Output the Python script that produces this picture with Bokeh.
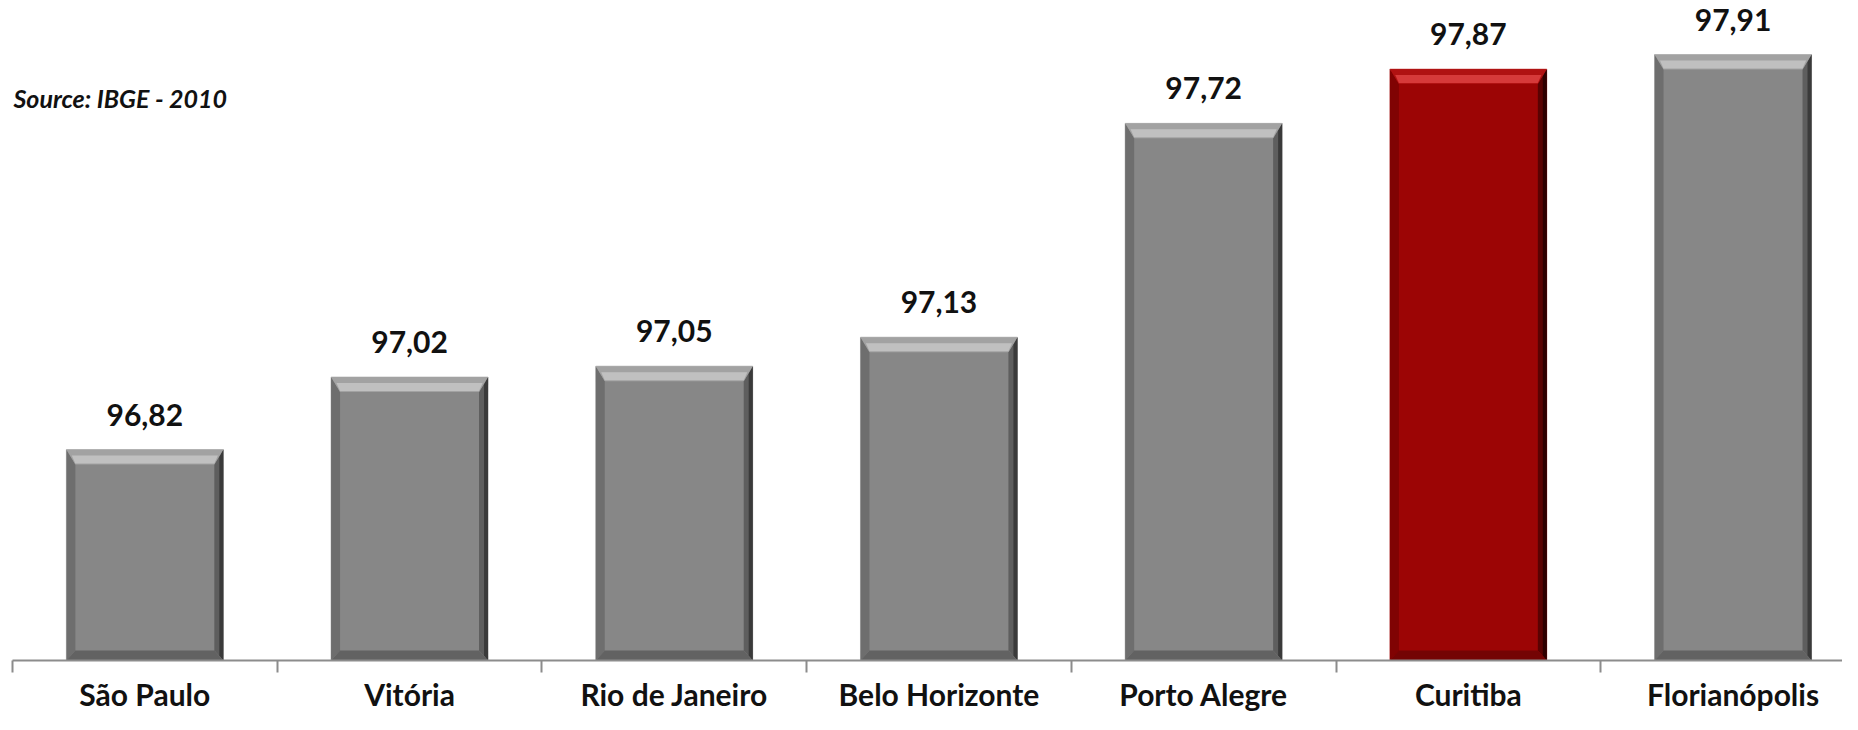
import numpy as np
from bokeh.plotting import figure
from bokeh.models import Range1d, FixedTicker, Label
from bokeh.embed import file_html
from bokeh.resources import INLINE
from bokeh.core.properties import value

# ---- data ----
cities = ["São Paulo", "Vitória", "Rio de Janeiro", "Belo Horizonte",
          "Porto Alegre", "Curitiba", "Florianópolis"]
rates = [96.82, 97.02, 97.05, 97.13, 97.72, 97.87, 97.91]
rate_labels = ["96,82", "97,02", "97,05", "97,13", "97,72", "97,87", "97,91"]
highlight_city = "Curitiba"
source_note = "Source: IBGE - 2010"

# ---- layout / style ----
W, H = 1842, 714
LEFT = 12
FRAME_H = 660.0
Y0, Y1 = 96.238, 98.059
X0 = -0.5
CAT_PX = 264.7
FRAME_W = W - LEFT
X1 = X0 + FRAME_W / CAT_PX
BAR_W = 0.593

FONT = "Lato"
TXT = "#111111"
AXIS_C = "#8c8c8c"

palette = {
    "gray": dict(main="#878787", top="#a2a2a2", hi="#c0c0c0", rdark="#3a3a3a",
                 rmid="#5e5e5e", left="#6e6e6e", bot="#626262", edge="#c4c4c4"),
    "red": dict(main="#9c0505", top="#b01212", hi="#d63a3a", rdark="#2e0000",
                rmid="#5a0202", left="#800303", bot="#740404", edge="#e2a0a0"),
}

p = figure(width=W, height=H, x_range=Range1d(X0, X1), y_range=Range1d(Y0, Y1),
           output_backend="svg", toolbar_location=None,
           min_border_left=LEFT, min_border_right=0, min_border_top=0, min_border_bottom=0)
p.outline_line_color = None
p.xgrid.grid_line_color = None
p.ygrid.grid_line_color = None
p.yaxis.visible = False
p.background_fill_color = "white"
p.border_fill_color = "white"

x_idx = np.arange(len(cities))

# pixel-to-data conversion for bevel sizes
px_y = FRAME_H / (Y1 - Y0)
ex = 9.0 / CAT_PX
ex2 = 4.0 / CAT_PX
ty = 15.0 / px_y
hy = 6.0 / px_y
by = 10.0 / px_y

order = ["face", "left", "rmid", "rdark", "bot", "top", "hi"]
layers = {k: ([], [], []) for k in order}

def add(layer, xs, ys, col):
    layers[layer][0].append(xs)
    layers[layer][1].append(ys)
    layers[layer][2].append(col)

for i, (city, v) in enumerate(zip(cities, rates)):
    c = palette["red"] if city == highlight_city else palette["gray"]
    xc = x_idx[i]
    xl, xr = xc - BAR_W / 2, xc + BAR_W / 2
    top, bot = v, Y0
    add("face", [xl, xr, xr, xl], [bot, bot, top, top], c["main"])
    add("left", [xl, xl + ex, xl + ex, xl], [bot, bot + by, top - ty, top], c["left"])
    add("rmid", [xr, xr - ex, xr - ex, xr], [bot, bot + by, top - ty, top], c["rmid"])
    add("rdark", [xr, xr - ex2, xr - ex2, xr], [bot, bot + by * 0.5, top - ty * 0.5, top], c["rdark"])
    add("bot", [xl, xr, xr - ex, xl + ex], [bot, bot, bot + by, bot + by], c["bot"])
    add("top", [xl, xr, xr - ex, xl + ex], [top, top, top - ty, top - ty], c["top"])
    add("hi", [xl + ex * 0.6, xr - ex * 0.6, xr - ex, xl + ex],
        [top - ty + hy + 3.0 / px_y, top - ty + hy + 3.0 / px_y,
         top - ty + 1.0 / px_y, top - ty + 1.0 / px_y], c["hi"])

for name in order:
    xs, ys, cols = layers[name]
    if name == "face":
        edge = [palette["red"]["edge"] if cy == highlight_city else palette["gray"]["edge"]
                for cy in cities]
        p.patches(xs, ys, fill_color=cols, line_color=edge, line_width=1)
    else:
        p.patches(xs, ys, fill_color=cols, line_color=None)

# value labels
p.text(x=x_idx, y=rates, text=rate_labels, text_align="center", text_baseline="alphabetic",
       y_offset=-35, text_font=value(FONT), text_font_style="bold", text_font_size="30px",
       text_color=TXT)

# category axis
ax = p.xaxis[0]
ax.ticker = FixedTicker(ticks=[float(i) for i in x_idx],
                        minor_ticks=[float(i) - 0.5 for i in range(len(cities) + 1)])
ax.major_label_overrides = {float(i): c for i, c in zip(x_idx, cities)}
ax.axis_line_color = AXIS_C
ax.axis_line_width = 2
ax.major_tick_line_color = None
ax.major_tick_out = 0
ax.major_tick_in = 0
ax.minor_tick_line_color = AXIS_C
ax.minor_tick_line_width = 2
ax.minor_tick_out = 12
ax.minor_tick_in = 0
ax.major_label_standoff = 3
ax.major_label_text_font = FONT
ax.major_label_text_font_style = "bold"
ax.major_label_text_font_size = "30px"
ax.major_label_text_color = TXT

note = Label(x=1, y=563, x_units="screen", y_units="screen", text=source_note,
             text_font=FONT, text_font_style="bold italic", text_font_size="25px",
             text_color=TXT, text_baseline="alphabetic")
p.add_layout(note)

open("out.html", "w").write(file_html(p, INLINE))
